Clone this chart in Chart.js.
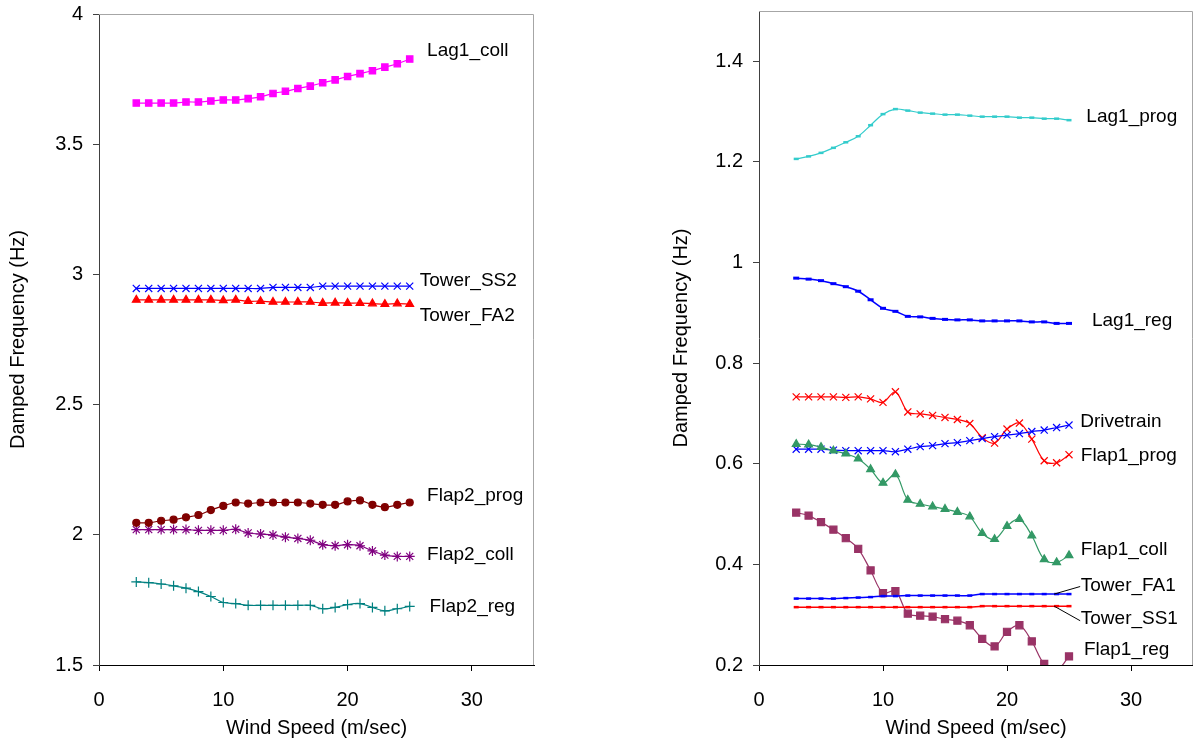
<!DOCTYPE html>
<html>
<head>
<meta charset="utf-8">
<script src="https://cdn.jsdelivr.net/npm/chart.js@4.4.1/dist/chart.umd.min.js"></script>
<style>
  html, body { margin: 0; padding: 0; background: #fff; overflow: hidden; }
  #left { position: absolute; left: 0; top: 0; }
  #right { position: absolute; left: 600px; top: 0; }
</style>
</head>
<body>
<canvas id="left" width="600" height="742"></canvas>
<canvas id="right" width="600" height="742"></canvas>
<script>
// wind speed (m/sec), same for every series
const windSpeed = [3, 4, 5, 6, 7, 8, 9, 10, 11, 12, 13, 14, 15, 16, 17, 18, 19, 20, 21, 22, 23, 24, 25];

// left panel (second modes)
const lag1Coll  = [3.658, 3.658, 3.658, 3.658, 3.662, 3.662, 3.666, 3.670, 3.670, 3.675, 3.682, 3.695, 3.703, 3.714, 3.723, 3.736, 3.747, 3.760, 3.771, 3.782, 3.796, 3.809, 3.827];
const towerSS2  = [2.946, 2.946, 2.946, 2.946, 2.946, 2.946, 2.946, 2.946, 2.946, 2.946, 2.946, 2.950, 2.950, 2.950, 2.950, 2.955, 2.955, 2.955, 2.955, 2.955, 2.955, 2.955, 2.955];
const towerFA2  = [2.902, 2.902, 2.902, 2.902, 2.902, 2.902, 2.902, 2.900, 2.902, 2.897, 2.897, 2.894, 2.894, 2.894, 2.894, 2.890, 2.891, 2.890, 2.890, 2.888, 2.886, 2.888, 2.886];
const flap2Prog = [2.046, 2.046, 2.054, 2.058, 2.067, 2.076, 2.095, 2.111, 2.124, 2.120, 2.124, 2.124, 2.124, 2.124, 2.120, 2.115, 2.115, 2.128, 2.132, 2.115, 2.106, 2.115, 2.124];
const flap2Coll = [2.020, 2.020, 2.020, 2.020, 2.020, 2.017, 2.017, 2.017, 2.021, 2.007, 2.003, 1.999, 1.991, 1.986, 1.979, 1.962, 1.958, 1.962, 1.958, 1.938, 1.922, 1.917, 1.917];
const flap2Reg  = [1.819, 1.816, 1.811, 1.804, 1.795, 1.782, 1.763, 1.740, 1.736, 1.729, 1.729, 1.729, 1.729, 1.729, 1.729, 1.716, 1.721, 1.732, 1.736, 1.721, 1.708, 1.716, 1.725];

// right panel (first modes)
const lag1Prog  = [1.206, 1.211, 1.218, 1.228, 1.239, 1.251, 1.273, 1.295, 1.305, 1.302, 1.298, 1.296, 1.294, 1.294, 1.292, 1.290, 1.290, 1.290, 1.288, 1.288, 1.286, 1.286, 1.283];
const lag1Reg   = [0.969, 0.967, 0.964, 0.958, 0.952, 0.943, 0.926, 0.909, 0.903, 0.893, 0.892, 0.889, 0.887, 0.886, 0.886, 0.884, 0.884, 0.884, 0.884, 0.882, 0.882, 0.879, 0.879];
const flap1Prog = [0.733, 0.733, 0.733, 0.733, 0.732, 0.733, 0.729, 0.722, 0.743, 0.703, 0.699, 0.696, 0.692, 0.688, 0.680, 0.652, 0.641, 0.669, 0.681, 0.649, 0.606, 0.602, 0.618];
const drivetrain = [0.629, 0.629, 0.629, 0.627, 0.626, 0.626, 0.626, 0.626, 0.624, 0.629, 0.634, 0.636, 0.640, 0.642, 0.646, 0.650, 0.654, 0.657, 0.660, 0.664, 0.667, 0.672, 0.677];
const flap1Coll = [0.639, 0.638, 0.633, 0.626, 0.620, 0.610, 0.589, 0.562, 0.579, 0.528, 0.520, 0.515, 0.510, 0.504, 0.495, 0.462, 0.450, 0.476, 0.490, 0.457, 0.410, 0.404, 0.418];
const towerFA1  = [0.332, 0.332, 0.332, 0.332, 0.333, 0.334, 0.335, 0.337, 0.337, 0.338, 0.338, 0.338, 0.338, 0.338, 0.338, 0.341, 0.341, 0.341, 0.341, 0.341, 0.341, 0.341, 0.341];
const towerSS1  = [0.315, 0.315, 0.315, 0.315, 0.315, 0.315, 0.315, 0.315, 0.315, 0.315, 0.315, 0.315, 0.315, 0.315, 0.315, 0.317, 0.317, 0.317, 0.317, 0.317, 0.317, 0.317, 0.317];
const flap1Reg  = [0.503, 0.497, 0.484, 0.469, 0.452, 0.431, 0.388, 0.343, 0.347, 0.302, 0.298, 0.296, 0.291, 0.288, 0.279, 0.252, 0.237, 0.266, 0.279, 0.247, 0.202, 0.190, 0.217];

// tick labels
const xTicks = [0, 10, 20, 30];
const leftYTicks = [1.5, 2, 2.5, 3, 3.5, 4];
const rightYTicks = [0.2, 0.4, 0.6, 0.8, 1, 1.2, 1.4];

// curve names, placed in data units
const leftLabels = [
  { text: 'Lag1_coll',  x: 26.4, y: 3.858 },
  { text: 'Tower_SS2',  x: 25.8, y: 2.974 },
  { text: 'Tower_FA2',  x: 25.8, y: 2.840 },
  { text: 'Flap2_prog', x: 26.4, y: 2.151 },
  { text: 'Flap2_coll', x: 26.4, y: 1.925 },
  { text: 'Flap2_reg',  x: 26.6, y: 1.722 }
];
const rightLabels = [
  { text: 'Lag1_prog',  x: 26.4, y: 1.290 },
  { text: 'Lag1_reg',   x: 26.85, y: 0.885 },
  { text: 'Drivetrain', x: 25.9, y: 0.684 },
  { text: 'Flap1_prog', x: 25.95, y: 0.616 },
  { text: 'Flap1_coll', x: 25.95, y: 0.430 },
  { text: 'Tower_FA1',  x: 25.95, y: 0.357 },
  { text: 'Tower_SS1',  x: 25.95, y: 0.291 },
  { text: 'Flap1_reg',  x: 26.2, y: 0.231 }
];
const rightLeaders = [
  { x1: 23.8, y1: 0.341, x2: 25.9, y2: 0.356 },
  { x1: 23.8, y1: 0.317, x2: 25.9, y2: 0.288 }
];

const FONT = '"Liberation Sans", Arial, sans-serif';

function series(values, color, style, radius, extra) {
  return Object.assign({
    data: windSpeed.map((x, i) => ({ x: x, y: values[i] })),
    borderColor: color,
    backgroundColor: color,
    borderWidth: 1.2,
    pointStyle: style,
    pointRadius: radius,
    pointBorderColor: color,
    pointBackgroundColor: color,
    pointBorderWidth: 1.2,
    tension: 0.35,
    fill: false
  }, extra || {});
}

// grey frame on top/right, curve names and leader lines
const annotate = {
  id: 'annotate',
  afterDraw(chart, args, opts) {
    const { ctx, chartArea: a, scales } = chart;
    ctx.save();
    ctx.strokeStyle = '#a6a6a6';
    ctx.lineWidth = 1;
    ctx.beginPath();
    ctx.moveTo(a.left, a.top + 0.5);
    ctx.lineTo(a.right - 0.5, a.top + 0.5);
    ctx.lineTo(a.right - 0.5, a.bottom);
    ctx.stroke();

    ctx.strokeStyle = '#000';
    (opts.leaders || []).forEach(l => {
      ctx.beginPath();
      ctx.moveTo(scales.x.getPixelForValue(l.x1), scales.y.getPixelForValue(l.y1));
      ctx.lineTo(scales.x.getPixelForValue(l.x2), scales.y.getPixelForValue(l.y2));
      ctx.stroke();
    });

    ctx.font = '19px ' + FONT;
    ctx.fillStyle = '#000';
    ctx.textAlign = 'left';
    ctx.textBaseline = 'middle';
    opts.labels.forEach(l => {
      ctx.fillText(l.text, scales.x.getPixelForValue(l.x), scales.y.getPixelForValue(l.y));
    });
    ctx.restore();
  }
};

function noPadding(s) {
  s.paddingTop = 0;
  s.paddingBottom = 0;
  s.paddingLeft = 0;
  s.paddingRight = 0;
}

function makeOptions(yMin, yMax, yTicks, yWidth, padding, labels, leaders) {
  const font = { family: FONT, size: 20 };
  return {
    responsive: false,
    animation: false,
    events: [],
    layout: { padding: padding },
    plugins: {
      legend: { display: false },
      tooltip: { enabled: false },
      annotate: { labels: labels, leaders: leaders }
    },
    scales: {
      x: {
        type: 'linear',
        min: 0,
        max: 35,
        afterBuildTicks: s => { s.ticks = xTicks.map(v => ({ value: v })); },
        afterFit: s => { s.height = 77; noPadding(s); },
        grid: { drawOnChartArea: false, tickLength: 6, color: '#000' },
        border: { color: '#000' },
        ticks: { color: '#000', font: font, padding: 17, maxRotation: 0, callback: v => String(v) },
        title: { display: true, text: 'Wind Speed (m/sec)', color: '#000', font: font, padding: { top: 4, bottom: 2 } }
      },
      y: {
        type: 'linear',
        min: yMin,
        max: yMax,
        afterBuildTicks: s => { s.ticks = yTicks.map(v => ({ value: v })); },
        afterFit: s => { s.width = yWidth; noPadding(s); },
        grid: { drawOnChartArea: false, tickLength: 6, color: '#404040' },
        border: { color: '#404040' },
        ticks: { color: '#000', font: font, padding: 10, callback: v => String(v) },
        title: { display: true, text: 'Damped Frequency (Hz)', color: '#000', font: font, padding: { top: 4, bottom: 4 } }
      }
    }
  };
}

new Chart(document.getElementById('left').getContext('2d'), {
  type: 'line',
  data: {
    datasets: [
      series(lag1Coll, '#ff00ff', 'rect', 4.5),
      series(towerSS2, '#0000ff', 'crossRot', 5),
      series(towerFA2, '#ff0000', 'triangle', 4.5),
      series(flap2Prog, '#800000', 'circle', 3.5),
      series(flap2Coll, '#800080', 'star', 5),
      series(flap2Reg, '#008080', 'cross', 5)
    ]
  },
  options: makeOptions(1.5, 4, leftYTicks, 97, { left: 2, top: 14, right: 66, bottom: 0 }, leftLabels, []),
  plugins: [annotate]
});

new Chart(document.getElementById('right').getContext('2d'), {
  type: 'line',
  data: {
    datasets: [
      series(lag1Prog, '#33cccc', 'line', 2.5, { pointBorderWidth: 2.5 }),
      series(lag1Reg, '#0000ff', 'line', 3, { pointBorderWidth: 3, borderWidth: 1.5 }),
      series(towerFA1, '#0000ff', 'line', 2.5, { pointBorderWidth: 2.5, borderWidth: 1.5 }),
      series(towerSS1, '#ff0000', 'line', 2.5, { pointBorderWidth: 2.5, borderWidth: 1.5 }),
      series(flap1Reg, '#993366', 'rect', 5),
      series(flap1Coll, '#339966', 'triangle', 4.5),
      series(drivetrain, '#0000ff', 'crossRot', 5),
      series(flap1Prog, '#ff0000', 'crossRot', 5)
    ]
  },
  options: makeOptions(0.2, 1.5, rightYTicks, 94, { left: 65, top: 11, right: 0, bottom: 0 }, rightLabels, rightLeaders),
  plugins: [annotate]
});
</script>
</body>
</html>
